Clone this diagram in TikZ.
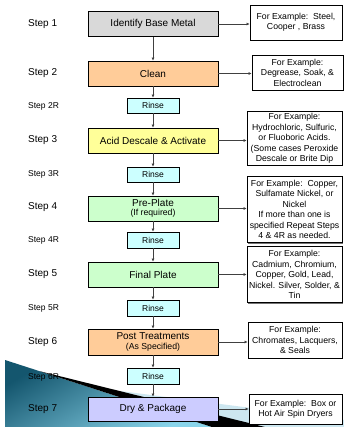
\documentclass[tikz,border=0pt]{standalone}
\usepackage{fontspec}
\setmainfont{Liberation Sans}
\usetikzlibrary{arrows.meta,shadows}
\definecolor{gray1}{HTML}{D9D9D9}
\definecolor{peach}{HTML}{FFCC99}
\definecolor{cyanl}{HTML}{CCFFFF}
\definecolor{yel}{HTML}{FFFF99}
\definecolor{grn}{HTML}{CCFFCC}
\definecolor{lav}{HTML}{CCCCFF}
\definecolor{tealdark}{HTML}{14566E}
\definecolor{teallight}{HTML}{8AD4EA}
\definecolor{paleblue}{HTML}{CDE7F0}
\definecolor{linegray}{HTML}{404040}
\begin{document}
\begin{tikzpicture}[x=1pt,y=-1pt,
  mainbox/.style={draw=black, line width=0.8pt, minimum width=130pt, minimum height=25pt,
    inner sep=0pt, align=center, font=\fontsize{10}{11}\selectfont},
  rinsebox/.style={draw=black, line width=0.8pt, fill=cyanl, minimum width=52pt,
    minimum height=15pt, inner sep=0pt, font=\fontsize{8.5}{9}\selectfont},
  exbox/.style={draw=black, line width=0.8pt, fill=white, inner sep=0pt, align=center,
    font=\fontsize{8.7}{10.5}\selectfont,
    drop shadow={shadow xshift=1pt, shadow yshift=-1pt, fill=black!55, opacity=1}},
  steplabel/.style={anchor=west, inner sep=0pt, font=\fontsize{10}{12}\selectfont},
  rlabel/.style={anchor=west, inner sep=0pt, font=\fontsize{8.5}{10}\selectfont},
  flow/.style={draw=linegray, line width=0.8pt, -{Latex[length=3pt,width=3pt]}},
  sub/.style={font=\fontsize{8.7}{9}\selectfont},
]
\useasboundingbox (0,0) rectangle (344,427);
\fill[white] (0,0) rectangle (344,427);

% background swoosh
\fill[paleblue] (120,391) -- (344,420) -- (344,427) -- (263,427) -- cycle;
\shade[top color=tealdark, bottom color=teallight, shading angle=30] (5,360) -- (5,427) -- (212,427) -- cycle;
\fill[black] (40,371.3) -- (265,427) -- (212,427) -- cycle;

% main column
\node[mainbox, fill=gray1] (s1) at (153,24) {Identify Base Metal};
\node[mainbox, fill=peach] (s2) at (153,73.5) {Clean};
\node[rinsebox] (r2) at (153,105.5) {Rinse};
\node[mainbox, fill=yel] (s3) at (153,140.5) {Acid Descale \& Activate};
\node[rinsebox] (r3) at (153,174.5) {Rinse};
\node[mainbox, fill=grn] (s4) at (153,208.5) {Pre-Plate\\[-1.5pt]{\fontsize{8.7}{9}\selectfont(If required)}};
\node[rinsebox, minimum height=16pt] (r4) at (153,240) {Rinse};
\node[mainbox, fill=grn] (s5) at (153,274.5) {Final Plate};
\node[rinsebox, minimum height=16pt] (r5) at (153,308) {Rinse};
\node[mainbox, fill=peach, minimum height=26pt] (s6) at (153,342) {Post Treatments\\[-1.5pt]{\fontsize{8.7}{9}\selectfont(As Specified)}};
\node[rinsebox, minimum height=16pt] (r6) at (153,376) {Rinse};
\node[mainbox, fill=lav, minimum height=24pt] (s7) at (153,409) {Dry \& Package};

% step labels
\node[steplabel] (l1) at (28,24) {Step 1};
\node[steplabel] (l2) at (28,73.5) {Step 2};
\node[rlabel] (l2r) at (28,106.5) {Step 2R};
\node[steplabel] (l3) at (28,140.5) {Step 3};
\node[rlabel] (l3r) at (28,174.5) {Step 3R};
\node[steplabel] (l4) at (28,207) {Step 4};
\node[rlabel] (l4r) at (28,240) {Step 4R};
\node[steplabel] (l5) at (28,274.5) {Step 5};
\node[rlabel] (l5r) at (28,308) {Step 5R};
\node[steplabel] (l6) at (28,342) {Step 6};
\node[rlabel] (l6r) at (28,377) {Step 6R};
\node[steplabel] (l7) at (28,409) {Step 7};

% example boxes
\node[exbox, minimum width=92pt, minimum height=35pt] (e1) at (296,22.5)
  {For Example:\ \ Steel,\\Cooper , Brass};
\node[exbox, minimum width=91pt, minimum height=35pt] (e2) at (297.5,72.5)
  {For Example:\\Degrease, Soak, \&\\Electroclean};
\node[exbox, minimum width=95pt, minimum height=54pt] (e3) at (294.5,138.5)
  {For Example:\\Hydrochloric, Sulfuric,\\or Fluoboric Acids.\\(Some cases Peroxide\\Descale or Brite Dip};
\node[exbox, minimum width=95pt, minimum height=66pt] (e4) at (294.5,209.5)
  {For Example:\ \ Copper,\\Sulfamate Nickel, or\\Nickel\\If more than one is\\specified Repeat Steps\\4 \& 4R as needed.};
\node[exbox, minimum width=95pt, minimum height=56pt] (e5) at (294.5,274.5)
  {For Example:\\Cadmium, Chromium,\\Copper, Gold, Lead,\\Nickel. Silver, Solder, \&\\Tin};
\node[exbox, minimum width=94pt, minimum height=36pt] (e6) at (295,340)
  {For Example:\\Chromates, Lacquers,\\\& Seals};
\node[exbox, minimum width=93pt, minimum height=30pt] (e7) at (295.5,409)
  {For Example:\ \ Box or\\Hot Air Spin Dryers};

% vertical flow
\draw[flow] (s1.south) -- (s2.north);
\draw[flow] (s2.south) -- (r2.north);
\draw[flow] (r2.south) -- (s3.north);
\draw[flow] (s3.south) -- (r3.north);
\draw[flow] (r3.south) -- (s4.north);
\draw[flow] (s4.south) -- (r4.north);
\draw[flow] (r4.south) -- (s5.north);
\draw[flow] (s5.south) -- (r5.north);
\draw[flow] (r5.south) -- (s6.north);
\draw[flow] (s6.south) -- (r6.north);
\draw[flow] (r6.south) -- (s7.north);

% horizontal to examples
\draw[flow] (s1.east) -- (s1.east -| e1.west);
\draw[flow] (s2.east) -- (s2.east -| e2.west);
\draw[flow] (s3.east) -- (s3.east -| e3.west);
\draw[flow] (s4.east) -- (s4.east -| e4.west);
\draw[flow] (s5.east) -- (s5.east -| e5.west);
\draw[flow] (s6.east) -- (s6.east -| e6.west);
\draw[flow] (s7.east) -- (s7.east -| e7.west);
\end{tikzpicture}
\end{document}
